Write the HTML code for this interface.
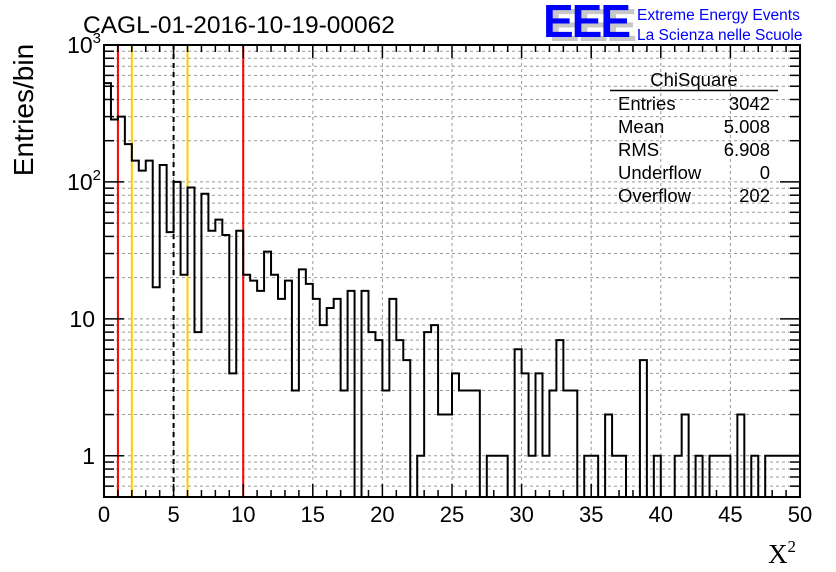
<!DOCTYPE html>
<html><head><meta charset="utf-8"><style>
body{margin:0;background:#fff;}
svg{display:block;font-family:"Liberation Sans",sans-serif;}
</style></head><body>
<svg id="chart" width="836" height="572" viewBox="0 0 836 572" xmlns="http://www.w3.org/2000/svg">
<rect width="836" height="572" fill="#fff"/>
<g id="grid"></g>
<g id="refs"></g>
<g id="hist"></g>
<g id="axes"></g>
<text x="83" y="33" font-size="24.5">CAGL-01-2016-10-19-00062</text>
<g>
<text x="549" y="41" font-size="46" font-weight="bold" fill="#c8c8c8" letter-spacing="-2">EEE</text>
<text x="543" y="37" font-size="46" font-weight="bold" fill="#0000ff" letter-spacing="-2">EEE</text>
<text x="637" y="20" font-size="15.5" fill="#0000ff">Extreme Energy Events</text>
<text x="637" y="40" font-size="15.5" fill="#0000ff">La Scienza nelle Scuole</text>
</g>
<g font-size="18.5">
<text x="694" y="86" text-anchor="middle">ChiSquare</text>
<line x1="610" y1="90.5" x2="778" y2="90.5" stroke="#000" stroke-width="1.5"/>
<text x="618" y="110">Entries</text><text x="770" y="110" text-anchor="end">3042</text>
<text x="618" y="133">Mean</text><text x="770" y="133" text-anchor="end">5.008</text>
<text x="618" y="156">RMS</text><text x="770" y="156" text-anchor="end">6.908</text>
<text x="618" y="179">Underflow</text><text x="770" y="179" text-anchor="end">0</text>
<text x="618" y="202">Overflow</text><text x="770" y="202" text-anchor="end">202</text>
</g>
<text transform="translate(33,110) rotate(-90)" text-anchor="middle" font-size="28">Entries/bin</text>
<text x="768" y="563" font-size="27" font-family="Liberation Serif,serif">X<tspan font-size="17" dy="-11">2</tspan></text>
</svg>
<script>
const counts = [527,286,300,189,143,121,143,17,133,43,100,21,91,8,82,44,53,41,4,44,21,19,16,31,21,14,19,3,23,18,14,9,12,14,3,16,0,16,8,7,3,14,7,5,0,1,8,9,2,2,4,3,3,3,0,1,1,1,0,6,4,1,4,1,3,7,3,3,0,1,1,0,2,1,1,0,0,5,0,1,0,0,1,2,0,1,0,1,1,1,0,2,0,1,0,1,1,1,1,1];
const xTicks = [0,5,10,15,20,25,30,35,40,45,50];
const yTicks = [{v:1000,t:"10",e:"3"},{v:100,t:"10",e:"2"},{v:10,t:"10",e:""},{v:1,t:"1",e:""}];
const refLines = [{x:1,c:"#ff0000",d:""},{x:2,c:"#ffcc00",d:""},{x:5,c:"#000",d:"5,4"},{x:6,c:"#ffcc00",d:""},{x:10,c:"#ff0000",d:""}];
const binWidth = 0.5, xMin=0, xMax=50, yMin=0.5, yMax=1000;
const L=104,R=800,T=45,B=497;
const NS="http://www.w3.org/2000/svg";
const sx=v=>L+(v-xMin)/(xMax-xMin)*(R-L);
const sy=v=>B-(Math.log10(v)-Math.log10(yMin))/(Math.log10(yMax)-Math.log10(yMin))*(B-T);
function mk(tag,attrs,parent){const e=document.createElementNS(NS,tag);for(const k in attrs)e.setAttribute(k,attrs[k]);parent.appendChild(e);return e;}
const grid=document.getElementById('grid'),axes=document.getElementById('axes'),hist=document.getElementById('hist'),refs=document.getElementById('refs');
for(const x of xTicks){if(x>xMin&&x<xMax){const g=mk('line',{x1:sx(x),x2:sx(x),y1:T,y2:B,stroke:'#999','stroke-dasharray':'3,3','stroke-width':1},grid);

}}
for(let d=-1;d<3;d++)for(let m=1;m<10;m++){const v=m*Math.pow(10,d);if(v<=yMin||v>=yMax)continue;const g=mk('line',{x1:L,x2:R,y1:sy(v),y2:sy(v),stroke:'#999','stroke-dasharray':'3,3','stroke-width':1},grid);

}
for(const r of refLines){const l=mk('line',{x1:sx(r.x),x2:sx(r.x),y1:T,y2:B,stroke:r.c,'stroke-width':2},refs);if(r.d)l.setAttribute('stroke-dasharray',r.d);

}
let d='M'+sx(0)+','+B;
counts.forEach((c,i)=>{const y=c>0?sy(c):B;const x0=sx(i*binWidth),x1=sx((i+1)*binWidth);d+=' L'+x0+','+y+' L'+x1+','+y;});
d+=' L'+sx(xMax)+','+B;
const p=mk('path',{d:d,fill:'none',stroke:'#000','stroke-width':2},hist);


const fr=mk('rect',{x:L,y:T,width:R-L,height:B-T,fill:'none',stroke:'#000','stroke-width':2},axes);


for(let x=xMin;x<=xMax;x++){const major=x%5===0;const len=major?13:7;
mk('line',{x1:sx(x),x2:sx(x),y1:B,y2:B-len,stroke:'#000','stroke-width':1.5},axes);
mk('line',{x1:sx(x),x2:sx(x),y1:T,y2:T+len,stroke:'#000','stroke-width':1.5},axes);}
for(const x of xTicks){const t=mk('text',{x:sx(x),y:522,'text-anchor':'middle','font-size':22},axes);t.textContent=x;

}
for(let dd=-1;dd<3;dd++)for(let m=1;m<10;m++){const v=m*Math.pow(10,dd);if(v<yMin||v>yMax)continue;const len=m===1?20:10;
mk('line',{x1:L,x2:L+len,y1:sy(v),y2:sy(v),stroke:'#000','stroke-width':1.5},axes);
mk('line',{x1:R,x2:R-len,y1:sy(v),y2:sy(v),stroke:'#000','stroke-width':1.5},axes);}
mk('line',{x1:L,x2:L+20,y1:sy(1000),y2:sy(1000),stroke:'#000','stroke-width':2},axes);
for(const yt of yTicks){const t=mk('text',{x:yt.e?88:95,y:sy(yt.v)+8,'text-anchor':'end','font-size':23},axes);t.textContent=yt.t;
if(yt.e){const s=mk('tspan',{'font-size':15,dy:-10},t);s.textContent=yt.e;t.setAttribute('x',101);}

}
</script>
</body></html>
